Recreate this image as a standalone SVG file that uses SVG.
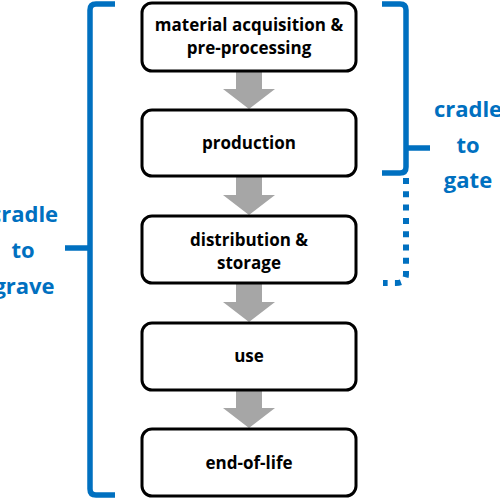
<svg xmlns="http://www.w3.org/2000/svg" width="500" height="500" viewBox="0 0 500 500">
<defs>
<style>
.box{fill:#fff;stroke:#000;stroke-width:3}
.lbl{font-family:"Open Sans","Liberation Sans",sans-serif;font-weight:bold;font-size:17px;fill:#000;text-anchor:middle}
.arr{fill:#A6A6A6}
.br{fill:none;stroke:#0070C0;stroke-width:5.5;stroke-linejoin:round}
.dot{fill:none;stroke:#0070C0;stroke-width:6;stroke-dasharray:6 7.3}
.blue{font-family:"Open Sans","Liberation Sans",sans-serif;font-weight:bold;font-size:22px;fill:#0070C0;text-anchor:middle}
</style>
</defs>
<g id="connectors">
<path class="arr" d="M236,72 H262 V89 H275 L249,109 L223,89 H236 Z"/>
<path class="arr" d="M236,177 H262 V195 H275 L249,215 L223,195 H236 Z"/>
<path class="arr" d="M236,284 H262 V302 H275 L249,322 L223,302 H236 Z"/>
<path class="arr" d="M236,391 H262 V408 H275 L249,428 L223,408 H236 Z"/>
</g>
<g id="n1"><rect class="box" x="142" y="3" width="214" height="68" rx="10"/><text class="lbl" x="249" y="31">material acquisition &amp;</text><text class="lbl" x="249" y="54">pre-processing</text></g>
<g id="n2"><rect class="box" x="142" y="110" width="214" height="66" rx="10"/><text class="lbl" x="249" y="149">production</text></g>
<g id="n3"><rect class="box" x="142" y="216" width="214" height="67" rx="10"/><text class="lbl" x="249" y="246">distribution &amp;</text><text class="lbl" x="249" y="269">storage</text></g>
<g id="n4"><rect class="box" x="142" y="323" width="214" height="67" rx="10"/><text class="lbl" x="249" y="362">use</text></g>
<g id="n5"><rect class="box" x="142" y="429" width="214" height="67" rx="10"/><text class="lbl" x="249" y="469">end-of-life</text></g>
<g id="grave">
<path class="br" d="M115,4 H96 Q90,4 90,10 V248 M65,248 H90 M90,248 V489 Q90,495 96,495 H115"/>
<text class="blue" x="24" y="222">cradle</text>
<text class="blue" x="23" y="258">to</text>
<text class="blue" x="24" y="294">grave</text>
</g>
<g id="gate">
<path class="br" d="M382,4 H400 Q406,4 406,10 V148 M406,148 H430 M406,148 V167 Q406,173 400,173 H382"/>
<path class="dot" d="M406,178 V274 Q406,283 396,283 H383"/>
<text class="blue" x="468" y="117">cradle</text>
<text class="blue" x="468" y="153">to</text>
<text class="blue" x="468" y="188">gate</text>
</g>
</svg>
